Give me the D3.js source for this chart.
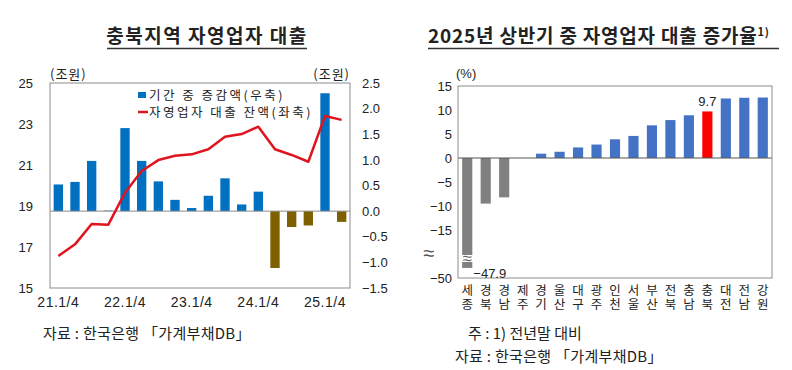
<!DOCTYPE html>
<html>
<head>
<meta charset="utf-8">
<script src="https://cdn.jsdelivr.net/npm/d3@7"></script>
<style>
  body { margin: 0; background: #fff; }
  svg { display: block; }
  text { font-family: "Liberation Sans", "Noto Sans CJK KR", sans-serif; fill: #222; }
  .kr { font-family: "Noto Sans CJK KR", sans-serif; }
  .axis path, .axis line { display: none; }
</style>
</head>
<body>
<svg id="chart"></svg>
<script>
// left chart: quarterly data 21Q1 .. 25Q2
const quarters = ["21.1/4", "21.2/4", "21.3/4", "21.4/4",
                  "22.1/4", "22.2/4", "22.3/4", "22.4/4",
                  "23.1/4", "23.2/4", "23.3/4", "23.4/4",
                  "24.1/4", "24.2/4", "24.3/4", "24.4/4",
                  "25.1/4", "25.2/4"];
const quarterTicks = ["21.1/4", "22.1/4", "23.1/4", "24.1/4", "25.1/4"];
// 기간 중 증감액 (조원, 우축)
const changeValues = [0.52, 0.57, 0.98, 0.01, 1.62, 0.98, 0.58, 0.22, 0.06,
                      0.30, 0.64, 0.13, 0.38, -1.11, -0.31, -0.28, 2.30, -0.21];
// 자영업자 대출 잔액 (조원, 좌축)
const balanceValues = [16.56, 17.13, 18.12, 18.09, 19.65, 20.71, 21.24, 21.45, 21.52,
                       21.77, 22.38, 22.51, 22.87, 21.77, 21.49, 21.16, 23.39, 23.20];
const leftTicks = [15, 17, 19, 21, 23, 25];
const rightTicks = [-1.5, -1.0, -0.5, 0.0, 0.5, 1.0, 1.5, 2.0, 2.5];

// right chart: 2025 H1 growth by region (%)
const regions = ["세종", "경북", "경남", "제주", "경기", "울산", "대구", "광주", "인천",
                 "서울", "부산", "전북", "충남", "충북", "대전", "전남", "강원"];
const growthValues = [-47.9, -9.5, -8.2, 0, 0.9, 1.3, 2.2, 2.8, 3.9,
                      4.6, 6.8, 7.9, 8.9, 9.7, 12.4, 12.55, 12.6];
const growthTicks = [15, 10, 5, 0, -5, -10, -15, -50];

let config = {
  'svg': { width: 792, height: 370 },
  'left': { x: 50, y: 83, width: 300, height: 205 },
  'right': { x: 458, y: 86, width: 314, height: 192 }
};

let svg = d3.select("svg#chart")
  .attr("width", config.svg.width)
  .attr("height", config.svg.height);

drawLeft();
drawRight();

function drawLeft() {
  let c = config.left;
  let g = svg.append("g").attr("transform", translate(c.x, c.y));

  let x = d3.scaleBand().domain(quarters).range([0, c.width])
    .paddingInner(0.44).paddingOuter(0.22);
  let yL = d3.scaleLinear().domain([15, 25]).range([c.height, 0]);
  let yR = d3.scaleLinear().domain([-1.5, 2.5]).range([c.height, 0]);

  // title
  svg.append("text").attr("class", "kr")
    .attr("x", 207).attr("y", 43)
    .attr("text-anchor", "middle")
    .attr("font-size", "19px").attr("font-weight", "bold")
    .attr("letter-spacing", "1.5px")
    .text("충북지역 자영업자 대출");
  svg.append("line")
    .attr("x1", 107).attr("x2", 307).attr("y1", 48.5).attr("y2", 48.5)
    .attr("stroke", "#333").attr("stroke-width", 1.5);

  // bars
  g.selectAll("rect.bar")
    .data(changeValues)
    .enter()
    .append("rect")
    .attr("class", "bar")
    .attr("x", (d, i) => x(quarters[i]))
    .attr("y", d => yR(Math.max(0, d)))
    .attr("width", x.bandwidth())
    .attr("height", d => Math.abs(yR(d) - yR(0)))
    .attr("fill", d => d >= 0 ? "#0070C0" : "#7F6000");

  // zero line
  g.append("line")
    .attr("x1", 0).attr("x2", c.width)
    .attr("y1", yR(0)).attr("y2", yR(0))
    .attr("stroke", "#8c8c8c").attr("stroke-width", 1);

  // balance line
  let line = d3.line()
    .x((d, i) => x(quarters[i]) + x.bandwidth() / 2)
    .y(d => yL(d));
  g.append("path")
    .datum(balanceValues)
    .attr("d", line)
    .attr("fill", "none")
    .attr("stroke", "#E0141E")
    .attr("stroke-width", 2.5)
    .attr("stroke-linejoin", "round");

  // frame
  g.append("rect")
    .attr("width", c.width).attr("height", c.height)
    .attr("fill", "none").attr("stroke", "#8c8c8c");

  // axes
  g.append("g").attr("class", "axis")
    .call(d3.axisLeft(yL).tickValues(leftTicks).tickSize(0).tickPadding(17))
    .selectAll("text").attr("font-size", "13px");
  g.append("g").attr("class", "axis")
    .attr("transform", translate(c.width, 0))
    .call(d3.axisRight(yR).tickValues(rightTicks).tickSize(0).tickPadding(12).tickFormat(d3.format(".1f")))
    .selectAll("text").attr("font-size", "13px");
  g.append("g").attr("class", "axis")
    .attr("transform", translate(0, c.height))
    .call(d3.axisBottom(x).tickValues(quarterTicks).tickSize(0).tickPadding(9))
    .selectAll("text").attr("font-size", "14px").attr("letter-spacing", "0.5px");

  // units
  g.append("text").attr("class", "kr")
    .attr("x", 0).attr("y", -4)
    .attr("font-size", "13px").attr("letter-spacing", "1px")
    .text("(조원)");
  g.append("text").attr("class", "kr")
    .attr("x", c.width).attr("y", -4)
    .attr("text-anchor", "end")
    .attr("font-size", "13px").attr("letter-spacing", "1px")
    .text("(조원)");

  // legend
  let legend = g.append("g").attr("transform", translate(88, 8));
  legend.append("rect")
    .attr("x", 0).attr("y", 1).attr("width", 8).attr("height", 6)
    .attr("fill", "#0070C0");
  legend.append("text").attr("class", "kr")
    .attr("x", 11).attr("y", 8.5)
    .attr("font-size", "12.5px").attr("letter-spacing", "2.5px")
    .text("기간 중 증감액(우축)");
  legend.append("line")
    .attr("x1", 0).attr("x2", 10).attr("y1", 21).attr("y2", 21)
    .attr("stroke", "#E0141E").attr("stroke-width", 2.5);
  legend.append("text").attr("class", "kr")
    .attr("x", 11).attr("y", 25.5)
    .attr("font-size", "12.5px").attr("letter-spacing", "2.5px")
    .text("자영업자 대출 잔액(좌축)");

  // source
  svg.append("text").attr("class", "kr")
    .attr("x", 43).attr("y", 339)
    .attr("font-size", "15px").attr("letter-spacing", "0.3px")
    .text("자료 : 한국은행 「가계부채DB」");
}

function drawRight() {
  let c = config.right;
  let g = svg.append("g").attr("transform", translate(c.x, c.y));

  let x = d3.scaleBand().domain(regions).range([0, c.width])
    .paddingInner(0.45).paddingOuter(0.225);
  // broken axis: -45..-20 collapsed at the ≈ mark
  let unit = c.height / 40;
  let yBreak = c.height - 5 * unit;
  let y = d3.scaleLinear()
    .domain([-50, -45, -20, 15])
    .range([c.height, yBreak, yBreak, 0]);

  // title
  let title = svg.append("text").attr("class", "kr")
    .attr("x", 428).attr("y", 43)
    .attr("font-size", "19px").attr("font-weight", "bold")
    .attr("letter-spacing", "0.8px");
  title.append("tspan").text("2025년 상반기 중 자영업자 대출 증가율");
  title.append("tspan").attr("font-size", "11px").attr("dy", -7).text("1)");
  svg.append("line")
    .attr("x1", 428).attr("x2", 779).attr("y1", 48.5).attr("y2", 48.5)
    .attr("stroke", "#333").attr("stroke-width", 1.5);

  // bars
  g.selectAll("rect.bar")
    .data(growthValues)
    .enter()
    .append("rect")
    .attr("class", "bar")
    .attr("x", (d, i) => x(regions[i]))
    .attr("y", d => y(Math.max(0, d)))
    .attr("width", x.bandwidth())
    .attr("height", d => Math.abs(y(d) - y(0)))
    .attr("fill", (d, i) => regions[i] == "충북" ? "#FF0000" : (d < 0 ? "#808080" : "#4472C4"));

  // break mark on the 세종 bar
  let bx = x(regions[0]);
  g.append("rect")
    .attr("x", bx - 1).attr("y", yBreak + 1)
    .attr("width", x.bandwidth() + 2).attr("height", 7)
    .attr("fill", "#fff");
  g.append("text")
    .attr("x", bx + x.bandwidth() / 2).attr("y", yBreak + 10)
    .attr("text-anchor", "middle")
    .attr("font-size", "17px").style("fill", "#666")
    .text("≈");

  // zero line
  g.append("line")
    .attr("x1", 0).attr("x2", c.width)
    .attr("y1", y(0)).attr("y2", y(0))
    .attr("stroke", "#555").attr("stroke-width", 1);

  // frame
  g.append("rect")
    .attr("width", c.width).attr("height", c.height)
    .attr("fill", "none").attr("stroke", "#8c8c8c");

  // value labels
  g.append("text")
    .attr("x", bx + x.bandwidth() + 1).attr("y", y(-47.9) + 10)
    .attr("font-size", "13px")
    .text(d3.format(".1f")(growthValues[0]));
  let cb = regions.indexOf("충북");
  g.append("text")
    .attr("x", x(regions[cb]) + x.bandwidth() / 2).attr("y", y(growthValues[cb]) - 5)
    .attr("text-anchor", "middle")
    .attr("font-size", "13px")
    .text(growthValues[cb].toFixed(1));

  // y axis
  g.append("g").attr("class", "axis")
    .call(d3.axisLeft(y).tickValues(growthTicks).tickSize(0).tickPadding(6))
    .selectAll("text").attr("font-size", "13px");
  g.append("text")
    .attr("x", -29).attr("y", yBreak + 6)
    .attr("text-anchor", "middle")
    .attr("font-size", "20px").style("fill", "#555")
    .text("≈");
  g.append("text")
    .attr("x", -2).attr("y", -8)
    .attr("font-size", "13px")
    .text("(%)");

  // x labels, two characters stacked
  let labels = g.selectAll("text.region")
    .data(regions)
    .enter()
    .append("text")
    .attr("class", "region kr")
    .attr("text-anchor", "middle")
    .attr("font-size", "12.5px")
    .attr("transform", d => translate(x(d) + x.bandwidth() / 2, c.height + 17));
  labels.append("tspan").attr("x", 0).attr("dy", 0).text(d => d[0]);
  labels.append("tspan").attr("x", 0).attr("dy", 14).text(d => d[1]);

  // notes
  svg.append("text").attr("class", "kr")
    .attr("x", 468).attr("y", 339)
    .attr("font-size", "15px")
    .text("주 : 1) 전년말 대비");
  svg.append("text").attr("class", "kr")
    .attr("x", 455).attr("y", 362)
    .attr("font-size", "15px").attr("letter-spacing", "0.3px")
    .text("자료 : 한국은행 「가계부채DB」");
}

function translate(x, y) {
  return 'translate(' + x + ',' + y + ')';
}
</script>
</body>
</html>
